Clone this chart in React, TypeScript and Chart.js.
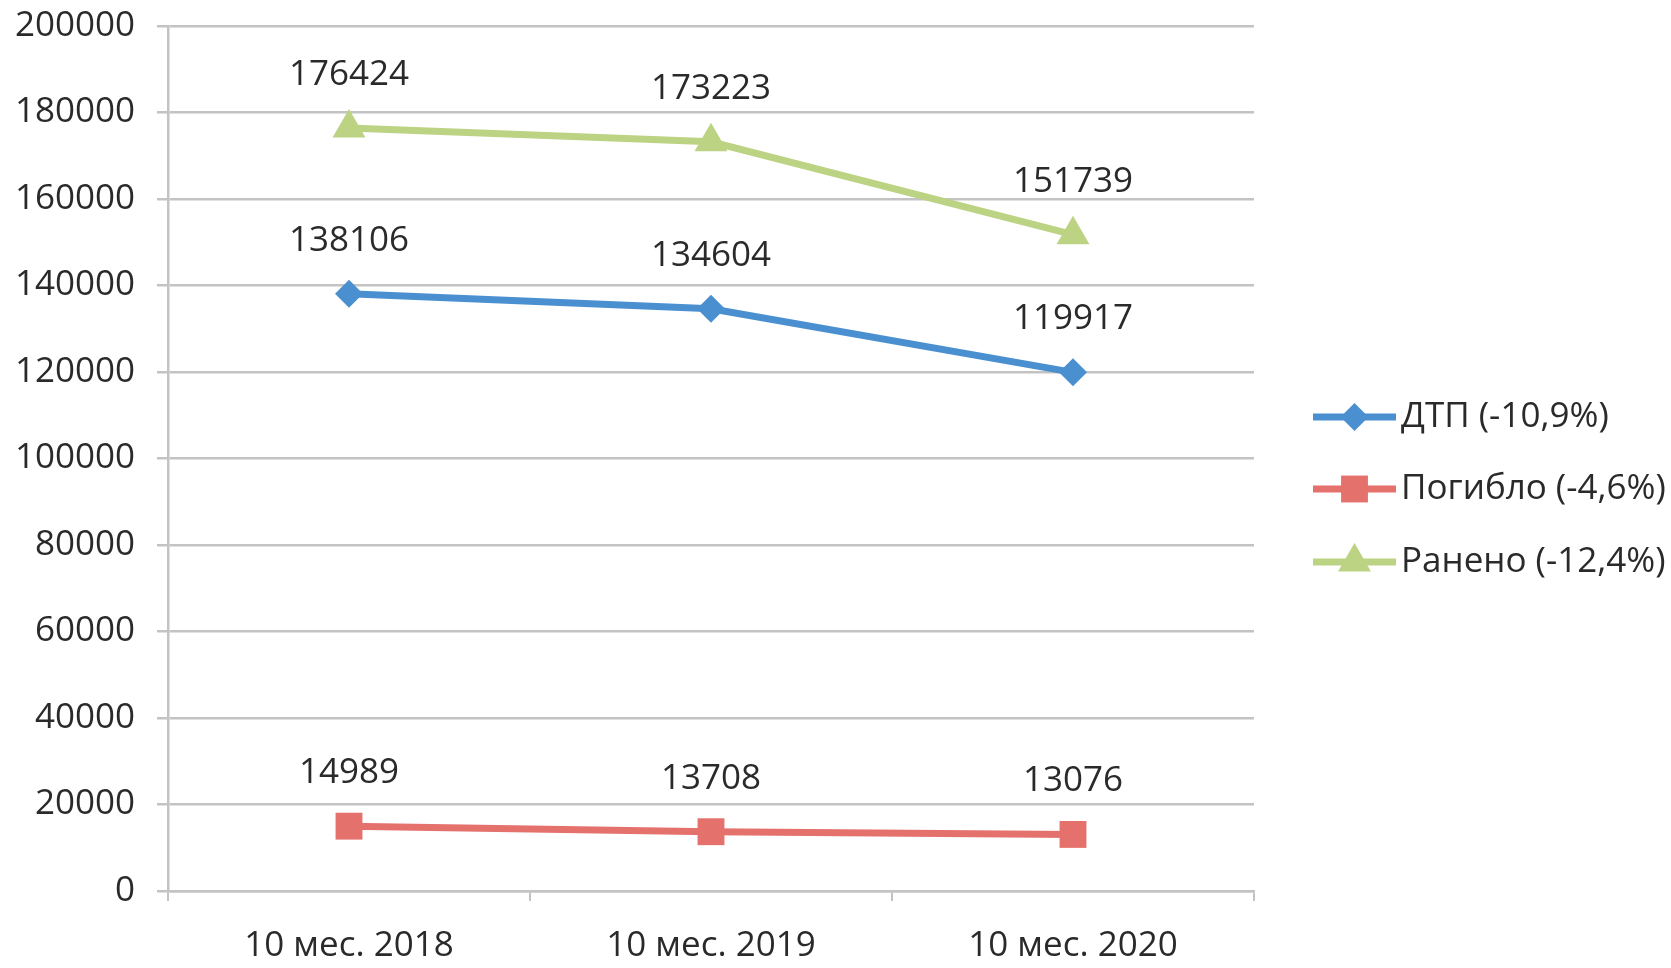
import React, { useEffect, useRef } from "react";
import { Chart, registerables } from "chart.js";

Chart.register(...registerables);

const categories = ["10 мес. 2018", "10 мес. 2019", "10 мес. 2020"];
const dtp = [138106, 134604, 119917];
const pogiblo = [14989, 13708, 13076];
const raneno = [176424, 173223, 151739];
const seriesLabels = ["ДТП (-10,9%)", "Погибло (-4,6%)", "Ранено (-12,4%)"];
const yTicks = [0, 20000, 40000, 60000, 80000, 100000, 120000, 140000, 160000, 180000, 200000];

const FONT = "'Open Sans', 'Noto Sans', sans-serif";
const FS = 35;
const TEXT = "#2a2a2a";
const GRID = "#c3c3c3";
const colors = ["#4a90d0", "#e5716d", "#bcd384"];
const styles = ["rectRot", "rect", "triangle"];
const radii = [14, 19, 19];

const labelsPlugin = {
  id: "labelsAndLegend",
  afterDatasetsDraw(chart: any) {
    const ctx = chart.ctx;
    ctx.save();
    ctx.fillStyle = TEXT;
    ctx.font = `${FS}px ${FONT}`;
    ctx.textAlign = "center";
    ctx.textBaseline = "middle";
    chart.data.datasets.forEach((ds: any, i: number) => {
      const meta = chart.getDatasetMeta(i);
      meta.data.forEach((pt: any, j: number) => {
        ctx.fillText(String(ds.data[j]), pt.x, pt.y - 53);
      });
    });
    // legend
    const rows = [417, 489, 562];
    const x0 = 1313, x1 = 1396;
    chart.data.datasets.forEach((ds: any, i: number) => {
      const y = rows[i];
      ctx.strokeStyle = colors[i];
      ctx.lineWidth = 7;
      ctx.beginPath();
      ctx.moveTo(x0, y);
      ctx.lineTo(x1, y);
      ctx.stroke();
      ctx.fillStyle = colors[i];
      const cx = (x0 + x1) / 2;
      ctx.beginPath();
      if (styles[i] === "rectRot") {
        const r = radii[i];
        ctx.moveTo(cx, y - r);
        ctx.lineTo(cx + r, y);
        ctx.lineTo(cx, y + r);
        ctx.lineTo(cx - r, y);
        ctx.closePath();
      } else if (styles[i] === "rect") {
        const s = radii[i] * Math.SQRT1_2;
        ctx.rect(cx - s, y - s, 2 * s, 2 * s);
      } else {
        const r = radii[i];
        ctx.moveTo(cx, y - r);
        ctx.lineTo(cx + r * 0.866, y + r * 0.5);
        ctx.lineTo(cx - r * 0.866, y + r * 0.5);
        ctx.closePath();
      }
      ctx.fill();
      ctx.fillStyle = TEXT;
      ctx.textAlign = "left";
      ctx.fillText(seriesLabels[i], x1 + 5, y);
    });
    ctx.restore();
  },
};

export default function App() {
  const ref = useRef<HTMLCanvasElement>(null);
  useEffect(() => {
    if (!ref.current) return;
    const data = [dtp, pogiblo, raneno];
    const chart = new Chart(ref.current, {
      type: "line",
      data: {
        labels: categories,
        datasets: data.map((d, i) => ({
          label: seriesLabels[i],
          data: d,
          borderColor: colors[i],
          backgroundColor: colors[i],
          borderWidth: 7,
          pointStyle: styles[i] as any,
          pointRadius: radii[i],
          pointHoverRadius: radii[i],
          pointBorderWidth: 0,
          tension: 0,
        })),
      },
      options: {
        responsive: false,
        animation: false,
        layout: { padding: { top: 26, right: 417, left: 0, bottom: 0 } },
        plugins: { legend: { display: false }, tooltip: { enabled: false } },
        scales: {
          x: {
            offset: true,
            grid: {
              offset: true,
              drawOnChartArea: false,
              drawTicks: true,
              tickLength: 10,
              color: GRID,
              lineWidth: 2,
            },
            border: { display: true, color: GRID, width: 2.5 },
            ticks: {
              color: TEXT,
              font: { family: FONT, size: FS },
              padding: 24,
              maxRotation: 0,
            },
            afterFit: (s: any) => {
              s.height = 77;
              s.paddingLeft = 0;
              s.paddingRight = 0;
            },
          },
          y: {
            min: 0,
            max: 200000,
            afterBuildTicks: (s: any) => {
              s.ticks = yTicks.map((v) => ({ value: v }));
            },
            grid: {
              color: GRID,
              lineWidth: 2.5,
              tickLength: 11,
            },
            border: { display: true, color: GRID, width: 2.5 },
            ticks: {
              color: TEXT,
              font: { family: FONT, size: FS },
              padding: 22,
              callback: (v: any) => String(v),
            },
            afterFit: (s: any) => {
              s.width = 168;
              s.paddingTop = 0;
              s.paddingBottom = 0;
            },
          },
        },
      },
      plugins: [labelsPlugin],
    });
    return () => chart.destroy();
  }, []);
  return (
    <div style={{ position: "absolute", left: 0, top: 0, width: 1671, height: 968, background: "#fff" }}>
      <canvas ref={ref} width={1671} height={968} style={{ display: "block" }} />
    </div>
  );
}
